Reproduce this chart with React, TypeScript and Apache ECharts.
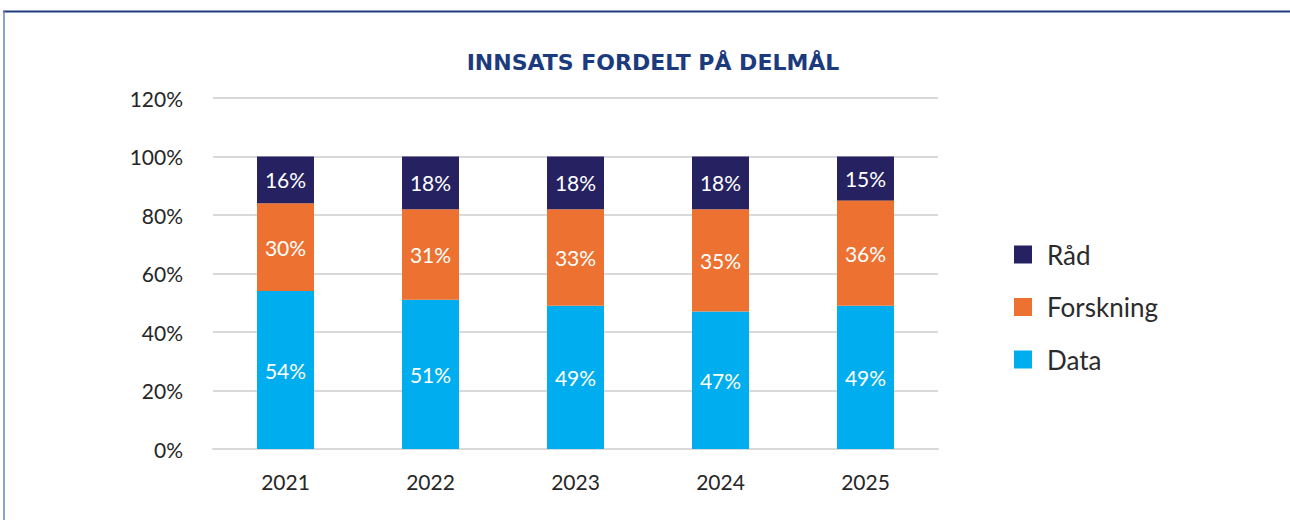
import React, { useEffect, useRef } from "react";
import * as echarts from "echarts";

const categories = ["2021", "2022", "2023", "2024", "2025"];
const dataValues = [54, 51, 49, 47, 49];
const forskningValues = [30, 31, 33, 35, 36];
const raadValues = [16, 18, 18, 18, 15];
const yTicks = [0, 20, 40, 60, 80, 100, 120];
const titleText = "INNSATS FORDELT PÅ DELMÅL";

const FONT = "Lato";

export default function App() {
  const ref = useRef<HTMLDivElement>(null);
  useEffect(() => {
    if (!ref.current) return;
    const chart = echarts.init(ref.current, null, { renderer: "svg" });
    const labelStyle = {
      show: true,
      position: "inside",
      color: "#ffffff",
      fontFamily: FONT,
      fontSize: 21,
      formatter: (p: any) => `${p.value}%`,
    };
    const mk = (name: string, data: number[], color: string) => ({
      name,
      type: "bar",
      stack: "total",
      data,
      barWidth: 57,
      itemStyle: { color },
      label: labelStyle,
    });
    chart.setOption({
      animation: false,
      backgroundColor: "#ffffff",
      title: {
        text: titleText,
        left: 648,
        textAlign: "center",
        top: 46,
        textStyle: {
          fontFamily: "DejaVu Sans",
          fontWeight: "bold",
          fontSize: 22,
          color: "#1c3a7e",
        },
      },
      legend: {
        orient: "vertical",
        left: 1009,
        top: 236.5,
        itemWidth: 18,
        itemHeight: 18,
        itemGap: 26.5,
        icon: "rect",
        data: ["Råd", "Forskning", "Data"],
        textStyle: {
          fontFamily: FONT,
          fontSize: 26,
          color: "#2b2b2b",
          padding: [0, 0, 0, 10],
        },
      },
      grid: { left: 213, right: 352, top: 98, bottom: 71 },
      xAxis: {
        type: "category",
        data: categories,
        axisLine: { lineStyle: { color: "#d9d9d9", width: 2 } },
        axisTick: { show: false },
        axisLabel: {
          fontFamily: FONT,
          fontSize: 21,
          color: "#262626",
          margin: 22,
        },
      },
      yAxis: {
        type: "value",
        min: yTicks[0],
        max: yTicks[yTicks.length - 1],
        interval: 20,
        axisLine: { show: false },
        axisTick: { show: false },
        splitLine: { lineStyle: { color: "#d9d9d9", width: 2 } },
        axisLabel: {
          fontFamily: FONT,
          fontSize: 21,
          color: "#262626",
          margin: 30,
          formatter: (v: number) => `${v}%`,
        },
      },
      series: [
        mk("Data", dataValues, "#00aeef"),
        mk("Forskning", forskningValues, "#ed7232"),
        mk("Råd", raadValues, "#262262"),
      ],
      graphic: [
        {
          type: "line",
          shape: { x1: 3, y1: 11.5, x2: 1290, y2: 11.5 },
          style: { stroke: "#1f3c7c", lineWidth: 2 },
          silent: true,
        },
        {
          type: "line",
          shape: { x1: 4, y1: 11, x2: 4, y2: 520 },
          style: { stroke: "#6b84b8", lineWidth: 1.5 },
          silent: true,
        },
      ],
    });
    return () => chart.dispose();
  }, []);
  return (
    <div
      ref={ref}
      style={{ position: "absolute", left: 0, top: 0, width: 1290, height: 520 }}
    />
  );
}
